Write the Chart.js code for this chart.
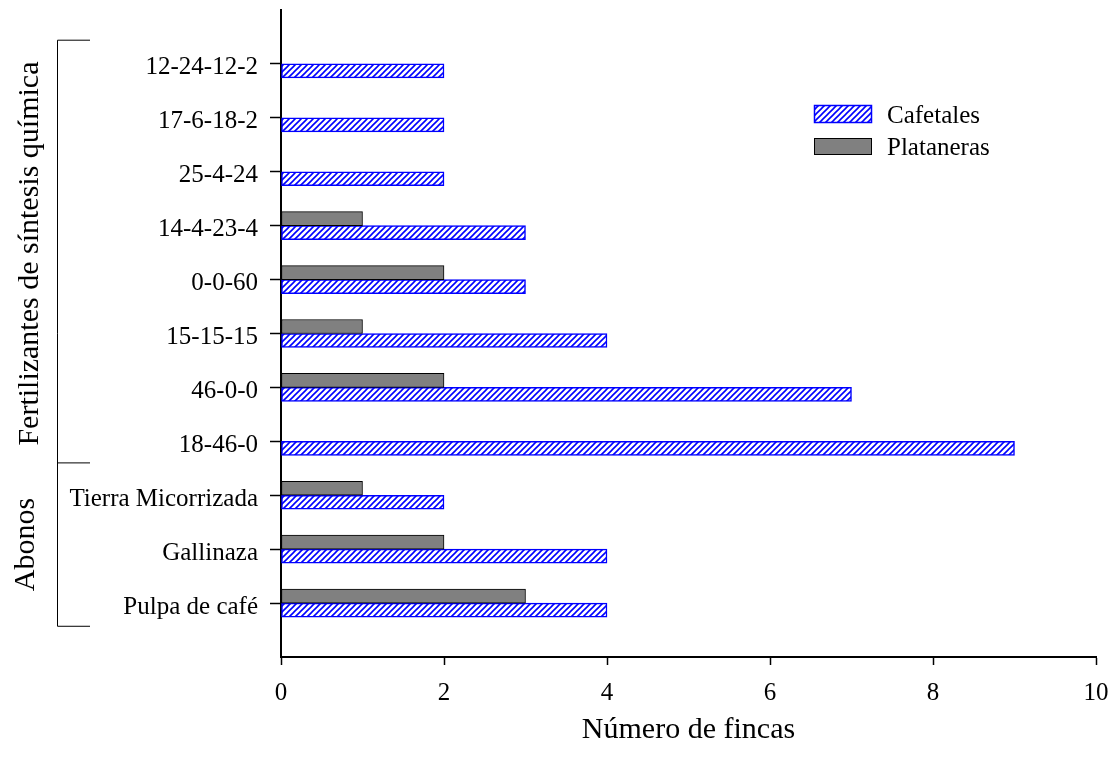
<!DOCTYPE html>
<html>
<head>
<meta charset="utf-8">
<script src="https://cdn.jsdelivr.net/npm/chart.js@4/dist/chart.umd.min.js"></script>
<style>
  html, body { margin: 0; padding: 0; background: #fff; }
  #wrap { width: 1110px; height: 757px; }
</style>
</head>
<body>
<div id="wrap"><canvas id="chart" width="1110" height="757"></canvas></div>
<script>
// Categories, top to bottom
const categories = ['12-24-12-2', '17-6-18-2', '25-4-24', '14-4-23-4', '0-0-60', '15-15-15',
                    '46-0-0', '18-46-0', 'Tierra Micorrizada', 'Gallinaza', 'Pulpa de café'];
const cafetales = [2, 2, 2, 3, 3, 4, 7, 9, 2, 4, 4];
const plataneras = [null, null, null, 1, 2, 1, 2, null, 1, 2, 3];
const xTicks = [0, 2, 4, 6, 8, 10];
const groupLabels = ['Fertilizantes de síntesis química', 'Abonos'];
const groupEnds = [7, 10]; // last category index in each group

const FONT = '"Liberation Serif", "Times New Roman", serif';

// Empty slot above and below the categories, like the original axis
const labels = [''].concat(categories, ['']);
const pad = arr => [null].concat(arr, [null]);

const canvas = document.getElementById('chart');
const ctx = canvas.getContext('2d');

// Blue diagonal hatch for the Cafetales bars
function makeHatch() {
    const c = document.createElement('canvas');
    c.width = 6;
    c.height = 6;
    const g = c.getContext('2d');
    g.fillStyle = '#ffffff';
    g.fillRect(0, 0, 6, 6);
    g.strokeStyle = '#0000ff';
    g.lineWidth = 1.6;
    g.beginPath();
    g.moveTo(-1, 7); g.lineTo(7, -1);
    g.moveTo(-1, 1); g.lineTo(1, -1);
    g.moveTo(5, 7); g.lineTo(7, 5);
    g.stroke();
    return ctx.createPattern(c, 'repeat');
}
const hatch = makeHatch();

// Brackets and group names on the left, legend inside the plot
const decorations = {
    id: 'decorations',
    afterDraw(chart) {
        const c = chart.ctx;
        const y = chart.scales.y;
        const at = v => y.getPixelForValue(v);
        // padded indexes: category i sits at i + 1
        const top = at(1 - 0.44);
        const mid = at(groupEnds[0] + 1 + 0.4);
        const bottom = at(groupEnds[1] + 1 + 0.43);
        const bx = 57.5;

        c.save();
        c.strokeStyle = '#000';
        c.lineWidth = 1;
        c.beginPath();
        c.moveTo(bx, top); c.lineTo(bx, bottom);
        [top, mid, bottom].forEach(yy => { c.moveTo(bx, yy); c.lineTo(90, yy); });
        c.stroke();

        c.fillStyle = '#000';
        c.font = '30px ' + FONT;
        c.textAlign = 'center';
        c.textBaseline = 'alphabetic';
        [[groupLabels[0], (top + mid) / 2 + 2, 38], [groupLabels[1], (mid + bottom) / 2, 34]].forEach(([t, cy, bl]) => {
            c.save();
            c.translate(bl, cy);
            c.rotate(-Math.PI / 2);
            c.fillText(t, 0, 0);
            c.restore();
        });

        // legend
        c.lineWidth = 1.5;
        c.fillStyle = hatch;
        c.fillRect(814, 105, 58, 18);
        c.strokeStyle = '#0000ff';
        c.strokeRect(814.5, 105.5, 57, 17);
        c.fillStyle = '#808080';
        c.fillRect(814, 138, 58, 17);
        c.strokeStyle = '#000';
        c.lineWidth = 1;
        c.strokeRect(814.5, 138.5, 57, 16);

        c.fillStyle = '#000';
        c.font = '25px ' + FONT;
        c.textAlign = 'left';
        c.fillText('Cafetales', 887, 123);
        c.fillText('Plataneras', 887, 155);
        c.restore();
    }
};

new Chart(canvas, {
    type: 'bar',
    data: {
        labels: labels,
        datasets: [
            {
                label: 'Plataneras',
                data: pad(plataneras),
                backgroundColor: '#808080',
                borderColor: '#000000',
                borderWidth: 1,
                borderSkipped: false,
                barThickness: 14
            },
            {
                label: 'Cafetales',
                data: pad(cafetales),
                backgroundColor: hatch,
                borderColor: '#0000ff',
                borderWidth: 1.5,
                borderSkipped: false,
                barThickness: 14
            }
        ]
    },
    options: {
        indexAxis: 'y',
        responsive: false,
        animation: false,
        devicePixelRatio: 1,
        layout: { padding: { left: 0, right: 14, top: 10, bottom: 0 } },
        plugins: {
            legend: { display: false },
            tooltip: { enabled: false }
        },
        scales: {
            y: {
                type: 'category',
                offset: false,
                afterFit: s => {
                    s.width = 281;
                    s.paddingTop = 0;
                    s.paddingBottom = 0;
                },
                grid: {
                    offset: false,
                    drawOnChartArea: false,
                    tickLength: 11,
                    tickWidth: 1.5,
                    tickColor: c => (c.index === 0 || c.index === labels.length - 1) ? 'rgba(0,0,0,0)' : '#000'
                },
                border: { display: true, color: '#000', width: 2 },
                ticks: {
                    color: '#000',
                    font: { family: FONT, size: 25 },
                    padding: 12,
                    labelOffset: 4,
                    autoSkip: false
                }
            },
            x: {
                min: 0,
                max: 10,
                afterFit: s => {
                    s.height = 100;
                    s.paddingLeft = 0;
                    s.paddingRight = 0;
                },
                afterBuildTicks: s => { s.ticks = xTicks.map(v => ({ value: v })); },
                grid: {
                    drawOnChartArea: false,
                    tickLength: 8,
                    tickWidth: 1.5,
                    tickColor: '#000'
                },
                border: { display: true, color: '#000', width: 2 },
                ticks: {
                    color: '#000',
                    font: { family: FONT, size: 25 },
                    padding: 13,
                    maxRotation: 0
                },
                title: {
                    display: true,
                    text: 'Número de fincas',
                    color: '#000',
                    font: { family: FONT, size: 30 },
                    padding: { top: 0, bottom: 9 }
                }
            }
        }
    },
    plugins: [decorations]
});
</script>
</body>
</html>
